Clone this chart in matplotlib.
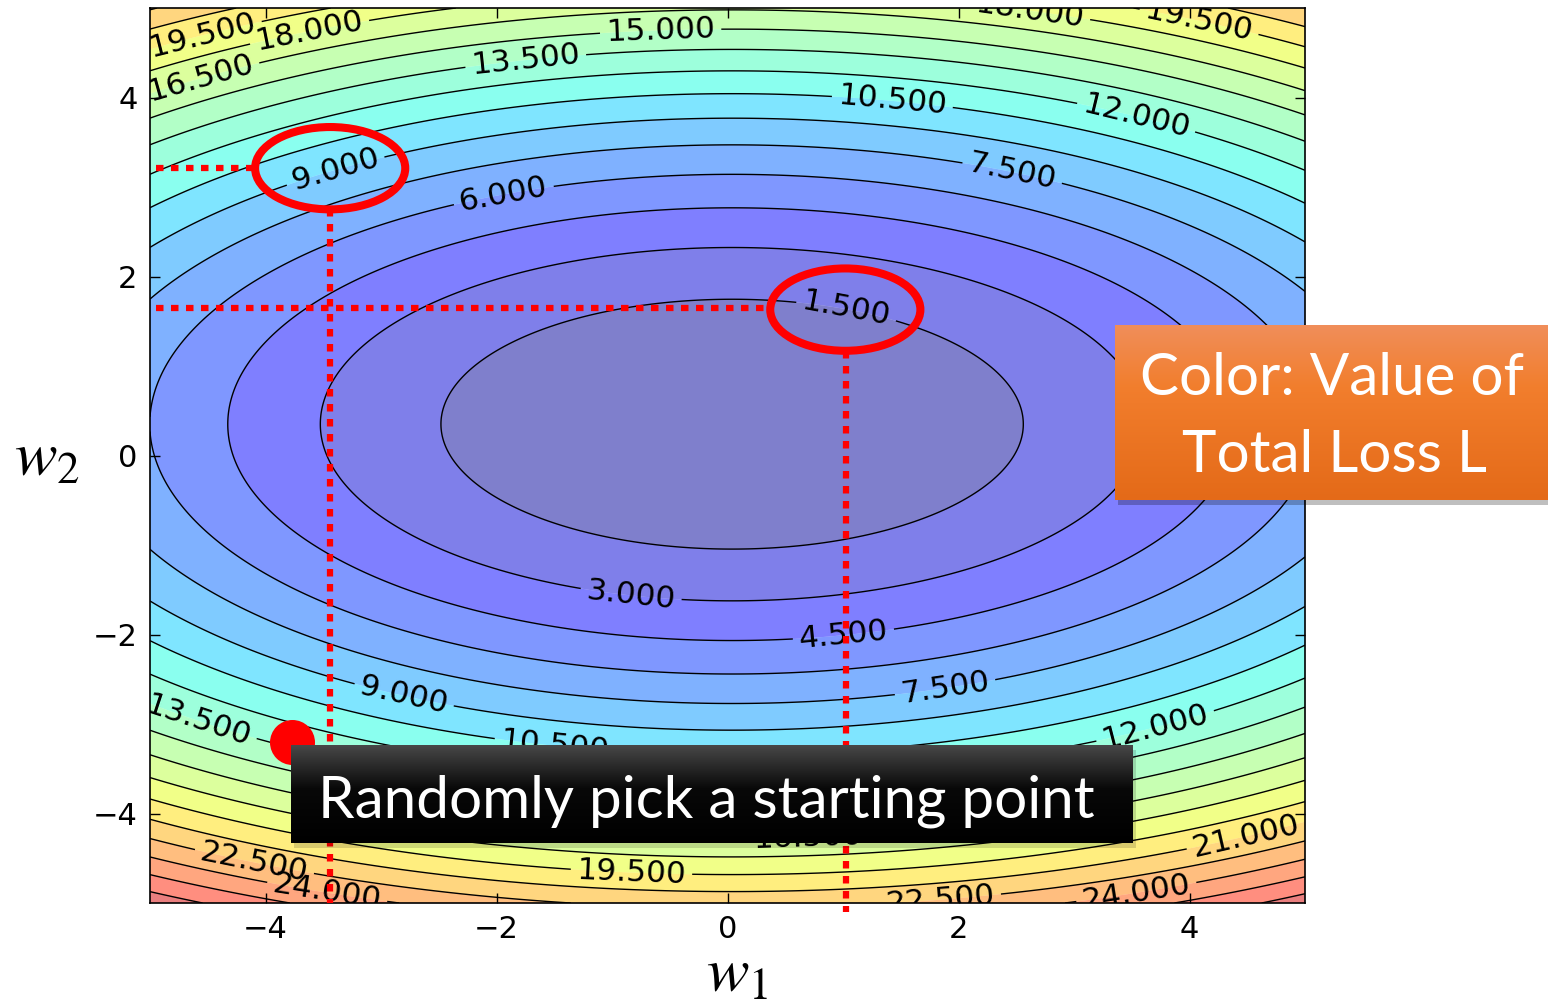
import numpy as np
import matplotlib
matplotlib.use("Agg")
import matplotlib.pyplot as plt
from matplotlib.patches import Ellipse, Rectangle

# Loss surface  L(w1, w2) = a*(w1 - c1)^2 + b*(w2 - c2)^2
coef_w1 = 0.236
coef_w2 = 0.77
center_w1 = 0.04
center_w2 = 0.35

level_step = 1.5
n_levels = 21
levels = np.arange(n_levels) * level_step          # 0.0 ... 30.0

w1 = np.linspace(-5, 5, 501)
w2 = np.linspace(-5, 5, 501)
W1, W2 = np.meshgrid(w1, w2)
L = coef_w1 * (W1 - center_w1) ** 2 + coef_w2 * (W2 - center_w2) ** 2

xticks = [-4, -2, 0, 2, 4]
yticks = [-4, -2, 0, 2, 4]

# highlighted contour labels and the random starting point
mark_9 = (-3.44, 3.21)
mark_15 = (1.02, 1.63)
start_point = (-3.77, -3.20)

# where the contour labels are placed
label_spots = [
    (-4.55, 4.72), (-3.62, 4.74), (-4.57, 4.25), (-0.58, 4.79), (-1.75, 4.45),
    (1.43, 3.99), (3.55, 3.84), (2.62, 4.97), (4.09, 4.89),
    (-3.40, 3.21), (-1.94, 2.93), (2.47, 3.19), (1.03, 1.63),
    (-0.83, -1.50), (1.00, -1.95), (-2.79, -2.62), (1.88, -2.56),
    (-4.57, -2.93), (-1.49, -3.20), (3.70, -3.01), (4.48, -4.20),
    (-4.09, -4.50), (-3.46, -4.83), (-0.83, -4.61), (1.84, -4.89),
    (3.53, -4.80), (-2.60, -4.15), (0.70, -4.30),
]

W, H = 1548, 1007
fig = plt.figure(figsize=(W / 100, H / 100), dpi=100)
fig.patch.set_facecolor("white")

ax_l, ax_r, ax_t, ax_b = 150, 1305, 8, 903
ax = fig.add_axes([ax_l / W, 1 - ax_b / H, (ax_r - ax_l) / W, (ax_b - ax_t) / H])

ax.contourf(W1, W2, L, levels=levels, cmap="jet", alpha=0.5, antialiased=True)
cs = ax.contour(W1, W2, L, levels=levels, colors="black", linewidths=1.0)
ax.clabel(cs, inline=True, fontsize=22.5, fmt="%.3f", manual=label_spots,
          inline_spacing=6)

ax.set_xlim(-5, 5)
ax.set_ylim(-5, 5)
ax.set_xticks(xticks)
ax.set_yticks(yticks)
ax.tick_params(direction="in", top=True, right=True, length=7, width=1,
               labelsize=22, pad=9, colors="black")
for sp in ax.spines.values():
    sp.set_linewidth(1.2)

# red highlights: ellipses around two labels and projection lines
red = "#ff0000"
dot_style = dict(color=red, lw=4.5, linestyle=(0, (1.2, 1.2)),
                 dash_capstyle="butt", clip_on=False, zorder=6)
ell_w, ell_h = 1.30, 0.92
ax.plot([-4.95, mark_9[0] - ell_w / 2], [mark_9[1], mark_9[1]], **dot_style)
ax.plot([mark_9[0], mark_9[0]], [mark_9[1] - ell_h / 2, -5.0], **dot_style)
ax.plot([-4.95, mark_15[0] - ell_w / 2], [1.65, 1.65], **dot_style)
ax.plot([mark_15[0] + 0.01, mark_15[0] + 0.01], [mark_15[1] - ell_h / 2, -5.1],
        **dot_style)
for c in (mark_9, mark_15):
    ax.add_patch(Ellipse(c, ell_w, ell_h, fill=False, ec=red, lw=5.8, zorder=7))
ax.scatter([start_point[0]], [start_point[1]], s=1050, color=red,
           zorder=8, clip_on=False, linewidths=0)

# axis labels
plt.rcParams["mathtext.fontset"] = "stix"
fig.text(737 / W, 1 - 974 / H, r"$w_1$", fontsize=46, ha="center", va="center")
fig.text(47 / W, 1 - 458 / H, r"$w_2$", fontsize=46, ha="center", va="center")


def gradient_box(x0, y0, x1, y1, stops, shadow_alpha):
    """Gradient-filled box in pixel coordinates; returns an axes spanning it."""
    sh = fig.add_axes([(x0 + 3) / W, 1 - (y1 + 5) / H, (x1 - x0) / W, (y1 - y0) / H])
    sh.set_axis_off()
    sh.add_patch(Rectangle((0, 0), 1, 1, transform=sh.transAxes,
                           color="#000000", alpha=shadow_alpha, lw=0))
    bx = fig.add_axes([x0 / W, 1 - y1 / H, (x1 - x0) / W, (y1 - y0) / H])
    bx.set_axis_off()
    pos = np.array([s[0] for s in stops])
    cols = np.array([s[1] for s in stops]) / 255.0
    t = np.linspace(0, 1, 200)
    grad = np.stack([np.interp(t, pos, cols[:, k]) for k in range(3)], axis=-1)
    bx.imshow(grad[:, None, :], aspect="auto", extent=(0, 1, 0, 1),
              interpolation="bilinear")
    bx.set_xlim(0, 1)
    bx.set_ylim(0, 1)
    return bx


def box_line(text, x_px, base_px, size):
    fig.text(x_px / W, 1 - base_px / H, text, color="white", fontsize=size,
             family="Lato", ha="center", va="baseline", zorder=20)


gradient_box(291, 745, 1133, 843,
             [(0.0, (72, 72, 72)), (0.45, (8, 8, 8)), (1.0, (0, 0, 0))], 0.15)
box_line("Randomly pick a starting point", 706, 818, 42)

gradient_box(1115, 325, 1548, 500,
             [(0.0, (240, 142, 90)), (0.35, (242, 126, 45)), (1.0, (228, 106, 24))],
             0.25)
box_line("Color: Value of", 1332, 395, 42)
box_line("Total Loss L", 1334, 472, 42)

fig.savefig("out.png", dpi=100)
